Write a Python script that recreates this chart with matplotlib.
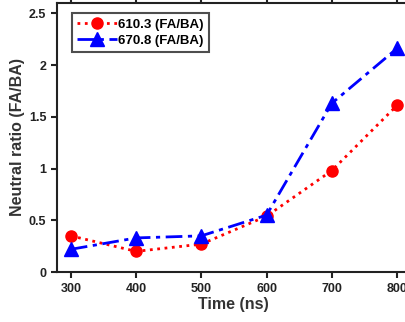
import matplotlib
matplotlib.use("Agg")
import matplotlib.pyplot as plt

time_ns = [300, 400, 500, 600, 700, 800]
ratio_610 = [0.35, 0.20, 0.27, 0.54, 0.98, 1.61]
ratio_670 = [0.22, 0.33, 0.35, 0.55, 1.63, 2.16]
x_ticks = [300, 400, 500, 600, 700, 800]
y_ticks = [0, 0.5, 1, 1.5, 2, 2.5]
y_tick_labels = ['0', '0.5', '1', '1.5', '2', '2.5']

plt.rcParams['font.family'] = ['Liberation Sans', 'DejaVu Sans']
plt.rcParams['font.weight'] = 'bold'

fig = plt.figure(figsize=(4.06, 3.22), dpi=100)
ax = fig.add_axes([0.140, 0.155, 0.87, 0.836])

ax.plot(time_ns, ratio_610, color='#ff0000', linestyle=':', linewidth=2,
        marker='o', markersize=8, label='610.3 (FA/BA)')
ax.plot(time_ns, ratio_670, color='#0000ff', linestyle=(0, (6, 2, 1.5, 2)), linewidth=2,
        marker='^', markersize=10, label='670.8 (FA/BA)')

ax.set_xlim(278.5, 820)
ax.set_ylim(0, 2.6)
ax.set_xticks(x_ticks)
ax.set_yticks(y_ticks)
ax.set_yticklabels(y_tick_labels)
ax.tick_params(direction='out', length=4, width=1.5, labelsize=9,
               top=True, right=True, colors='#222222')
for s in ax.spines.values():
    s.set_linewidth(1.5)
    s.set_color('#222222')

ax.set_xlabel('Time (ns)', fontsize=11.5, fontweight='bold', color='#333333', labelpad=2)
ax.set_ylabel('Neutral ratio (FA/BA)', fontsize=11.5, fontweight='bold', color='#333333', labelpad=3)

leg = ax.legend(loc='upper left', fontsize=9.5, frameon=True, fancybox=False,
                borderpad=0.4, handlelength=3.0, handletextpad=0.1,
                labelspacing=0.3, borderaxespad=0, bbox_to_anchor=(0.043, 0.962))
leg.get_frame().set_edgecolor('#222222')
leg.get_frame().set_linewidth(1.5)

fig.savefig('out.png', dpi=100)
